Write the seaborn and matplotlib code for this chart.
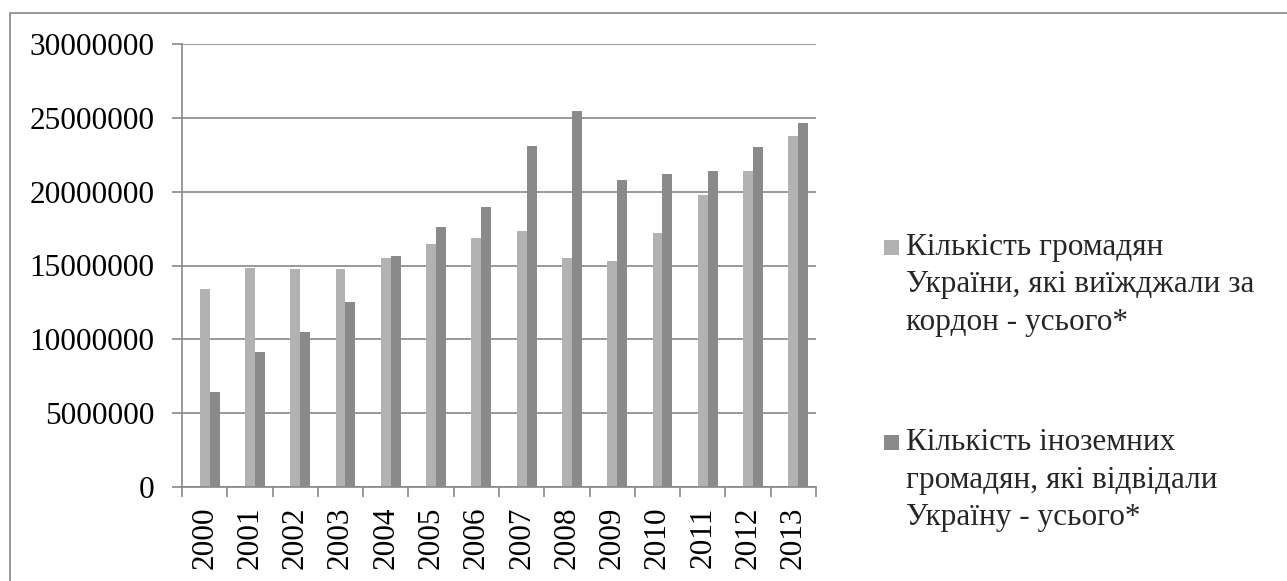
import matplotlib
matplotlib.use("Agg")
import matplotlib.pyplot as plt
from matplotlib.patches import Rectangle
from matplotlib.legend_handler import HandlerPatch
from matplotlib.ticker import FixedLocator, FuncFormatter
import seaborn as sns
import pandas as pd

# ---- data ----
years = ["2000", "2001", "2002", "2003", "2004", "2005", "2006",
         "2007", "2008", "2009", "2010", "2011", "2012", "2013"]
ukr_outbound = [13422320, 14849033, 14729444, 14779864, 15487571, 16453704, 16875378,
                17334653, 15498567, 15333949, 17180034, 19773137, 21432836, 23761287]
foreign_visitors = [6430940, 9174166, 10516665, 12513883, 15629213, 17630760, 18935775,
                    23122157, 25449078, 20798342, 21203327, 21415296, 23012823, 24671227]
series_names = ["Кількість громадян\nУкраїни, які виїжджали за\nкордон - усього*",
                "Кількість іноземних\nгромадян, які відвідали\nУкраїну - усього*"]
y_ticks = [0, 5000000, 10000000, 15000000, 20000000, 25000000, 30000000]

df = pd.DataFrame({
    "year": years * 2,
    "value": ukr_outbound + foreign_visitors,
    "series": [series_names[0]] * len(years) + [series_names[1]] * len(years),
})

# ---- style ----
sns.set_theme(style="white")
plt.rcParams["font.family"] = ["Liberation Serif", "DejaVu Serif"]
FS = 22.5
GRID = "#878787"
LIGHT = "#b2b2b2"
DARK = "#8a8a8a"

W, H = 1287, 581
fig = plt.figure(figsize=(W / 100, H / 100), dpi=100)
ax = fig.add_axes([182 / W, 1 - 487 / H, (816 - 182) / W, (487 - 44) / H])

sns.barplot(data=df, x="year", y="value", hue="series", order=years,
            hue_order=series_names, palette=[LIGHT, DARK], width=0.44,
            gap=0, dodge=True, saturation=1, linewidth=0, ax=ax, legend=True)

# Excel places the bar pair slightly right of the category centre
for p in ax.patches:
    p.set_x(p.get_x() + 0.11)

ax.set_xlim(-0.5, len(years) - 0.5)
ax.set_ylim(0, 30000000)
ax.set_xlabel("")
ax.set_ylabel("")

ax.yaxis.set_major_locator(FixedLocator(y_ticks))
ax.yaxis.set_major_formatter(FuncFormatter(lambda v, p: f"{int(v)}"))
ax.grid(axis="y", color=GRID, linewidth=1.2)
ax.set_axisbelow(True)

for s in ["top", "right"]:
    ax.spines[s].set_visible(False)
for s in ["left", "bottom"]:
    ax.spines[s].set_color(GRID)
    ax.spines[s].set_linewidth(1.2)

ax.tick_params(axis="y", which="major", length=7, width=1.2, color=GRID,
               direction="out", left=True, pad=13, labelsize=FS, labelcolor="black")
ax.tick_params(axis="x", which="major", length=0, pad=14, labelsize=FS,
               labelrotation=90, labelcolor="black")
ax.set_xticks([i - 0.5 for i in range(len(years) + 1)], minor=True)
ax.tick_params(axis="x", which="minor", length=7, width=1.2, color=GRID,
               direction="out", bottom=True)
for lab in ax.get_xticklabels():
    lab.set_verticalalignment("top")

# ---- legend ----
leg_old = ax.get_legend()
leg_old.remove()

LINE_PT = 27.0


def square_patch(legend, orig_handle, xdescent, ydescent, width, height, fontsize):
    s = 11.0
    cy = -ydescent + height / 2 + LINE_PT
    return Rectangle((-xdescent + (width - s) / 2, cy - s / 2), s, s)


proxies = [Rectangle((0, 0), 1, 1, facecolor=c, edgecolor="none") for c in (LIGHT, DARK)]
leg = fig.legend(proxies, series_names, loc="upper left",
                 bbox_to_anchor=(883 / W, 1 - 233 / H), frameon=False,
                 fontsize=FS, borderpad=0, borderaxespad=0, handlelength=0.55,
                 handletextpad=0.2, labelspacing=2.93,
                 handler_map={Rectangle: HandlerPatch(patch_func=square_patch)})
for t in leg.get_texts():
    t.set_linespacing(1.38)

# ---- outer chart border (cropped at right & bottom) ----
fig.add_artist(Rectangle((10 / W, -0.1), 1.2, 1 - 13 / H + 0.1,
                         transform=fig.transFigure, fill=False,
                         edgecolor=GRID, linewidth=1.2, clip_on=False))

fig.savefig("out.png", dpi=100)
